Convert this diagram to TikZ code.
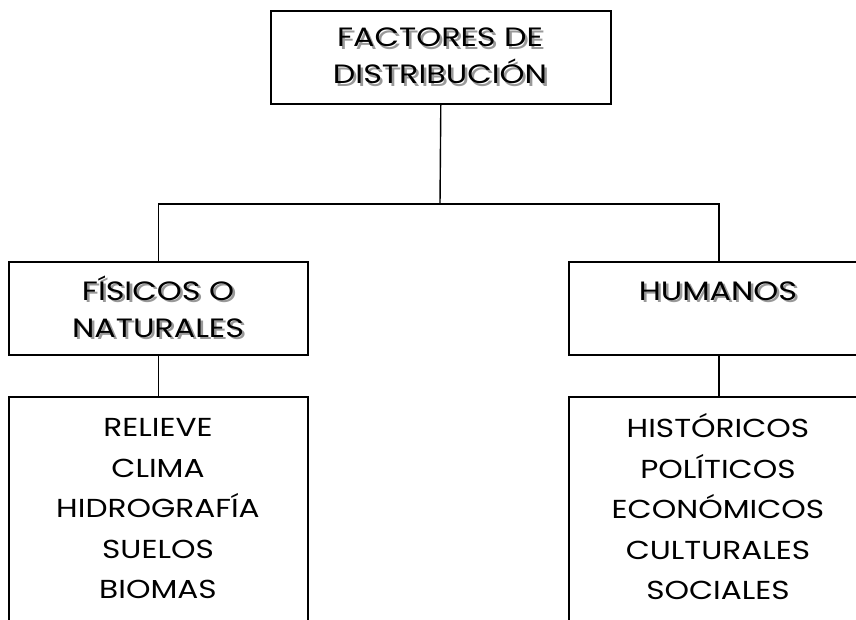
\documentclass[tikz,border=0pt]{standalone}
\usepackage{fontspec}
\setmainfont{Poppins}[FakeStretch=1.2]
\newcommand\shd[1]{\makebox[0pt][l]{\hspace{2.5pt}\raisebox{-2.5pt}{\textcolor{black!40}{#1}}}#1}
\begin{document}
\begin{tikzpicture}[x=1pt,y=-1pt,
  box/.style={draw=black,line width=1.6pt,inner sep=0pt,anchor=north west,rectangle},
  conn/.style={draw=black,line width=1.4pt},
  head/.style={align=center,inner sep=0pt,font=\fontsize{26.5}{37}\selectfont},
  list/.style={align=center,inner sep=0pt,font=\fontsize{26}{40.5}\selectfont}]
\useasboundingbox (0,0) rectangle (856,619);
\clip (0,0) rectangle (856,619);
% boxes
\node[box,minimum width=340pt,minimum height=93pt] (top) at (270,10) {};
\node[box,minimum width=299pt,minimum height=93pt] (lmid) at (8,261) {};
\node[box,minimum width=300pt,minimum height=93pt] (rmid) at (568,261) {};
\node[box,minimum width=299pt,minimum height=260pt] (lbot) at (8,396) {};
\node[box,minimum width=300pt,minimum height=260pt] (rbot) at (568,396) {};
% connectors
\coordinate (j) at (440,204);
\draw[conn] (top.south) -- (j);
\draw[conn] (lmid.north) |- (j) -| (rmid.north);
\draw[conn] (lmid.south) -- (lbot.north);
\draw[conn] (rmid.south) -- (rbot.north);
% headings with shadow
\node[head] (tt) at (440,57) {\shd{FACTORES DE}\\\shd{DISTRIBUCIÓN}};
\node[head] (lt) at (158,308) {\shd{FÍSICOS O}\\\shd{NATURALES}};
\node[head] (rt) at (718,292) {\shd{HUMANOS}};
% lists
\node[list] (ll) at (158,509) {RELIEVE\\CLIMA\\HIDROGRAFÍA\\SUELOS\\BIOMAS};
\node[list] (rl) at (718,507) {HISTÓRICOS\\POLÍTICOS\\ECONÓMICOS\\CULTURALES\\SOCIALES};
\end{tikzpicture}
\end{document}
